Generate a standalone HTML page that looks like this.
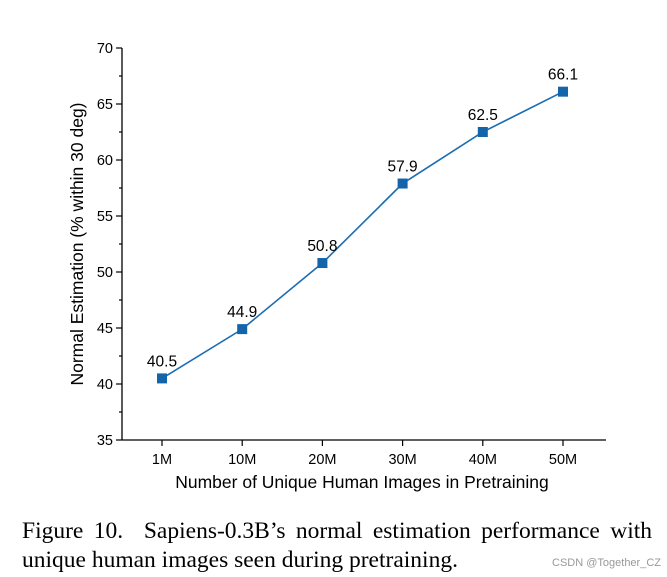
<!DOCTYPE html>
<html><head><meta charset="utf-8"><style>
body{margin:0;background:#fff;width:667px;height:577px;overflow:hidden;position:relative}
svg{position:absolute;left:0;top:0}
.cap{position:absolute;left:22px;top:517px;width:630px;font:23.5px "Liberation Serif",serif;color:#000;line-height:29px;text-align:justify;text-align-last:left}
.l1{display:block;text-align:justify;text-align-last:justify;white-space:nowrap;word-spacing:-2px}
.wm{position:absolute;right:6px;top:557px;font:11px "Liberation Sans",sans-serif;color:#999}
</style></head><body>
<svg width="667" height="577" font-family="Liberation Sans, sans-serif">
<g id="axes"></g><g id="marks"></g>
<text x="362" y="488" font-size="17.5" text-anchor="middle">Number of Unique Human Images in Pretraining</text>
<text transform="translate(83,244) rotate(-90)" font-size="17.5" text-anchor="middle">Normal Estimation (% within 30 deg)</text>
</svg>
<div class="cap"><span class="l1" style="white-space:normal">Figure 10.&nbsp; Sapiens-0.3B’s normal estimation performance with</span>unique human images seen during pretraining.</div>
<div class="wm">CSDN @Together_CZ</div>
<script>
const categories=["1M","10M","20M","30M","40M","50M"];
const values=[40.5,44.9,50.8,57.9,62.5,66.1];
const yTicks=[35,40,45,50,55,60,65,70];
const NS="http://www.w3.org/2000/svg";
const x0=122,x1=606,yTop=48,yBot=440,yMin=35,yMax=70;
const xs=i=>162+i*80.2;
const ys=v=>yBot-(v-yMin)/(yMax-yMin)*(yBot-yTop);
function mk(t,a,p){const e=document.createElementNS(NS,t);for(const k in a)e.setAttribute(k,a[k]);p.appendChild(e);return e;}
const ax=document.getElementById('axes'),mg=document.getElementById('marks');
let e=mk('line',{x1:x0,y1:yTop,x2:x0,y2:yBot,stroke:'#000','stroke-width':1.3},ax);


e=mk('line',{x1:x0,y1:yBot,x2:x1,y2:yBot,stroke:'#000','stroke-width':1.3},ax);


yTicks.forEach((v,i)=>{const y=ys(v);
mk('line',{x1:x0-6,y1:y,x2:x0,y2:y,stroke:'#000','stroke-width':1.2},ax);
if(i<yTicks.length-1)mk('line',{x1:x0-3,y1:ys(v+2.5),x2:x0,y2:ys(v+2.5),stroke:'#000','stroke-width':1.2},ax);
const t=mk('text',{x:x0-9,y:y+5,'font-size':14.5,'text-anchor':'end'},ax);t.textContent=v;

});
categories.forEach((c,i)=>{const x=xs(i);
mk('line',{x1:x,y1:yBot,x2:x,y2:yBot+6,stroke:'#000','stroke-width':1.2},ax);
const t=mk('text',{x:x,y:yBot+24,'font-size':14.5,'text-anchor':'middle'},ax);t.textContent=c;

});
const pl=mk('polyline',{points:values.map((v,i)=>xs(i)+','+ys(v)).join(' '),fill:'none',stroke:'#1b6db3','stroke-width':1.6},mg);


values.forEach((v,i)=>{const x=xs(i),y=ys(v);
const r=mk('rect',{x:x-5,y:y-5,width:10,height:10,fill:'#1464ab'},mg);


const t=mk('text',{x:x,y:y-12,'font-size':15.5,'text-anchor':'middle'},mg);t.textContent=v.toFixed(1);

});
</script>
</body></html>
